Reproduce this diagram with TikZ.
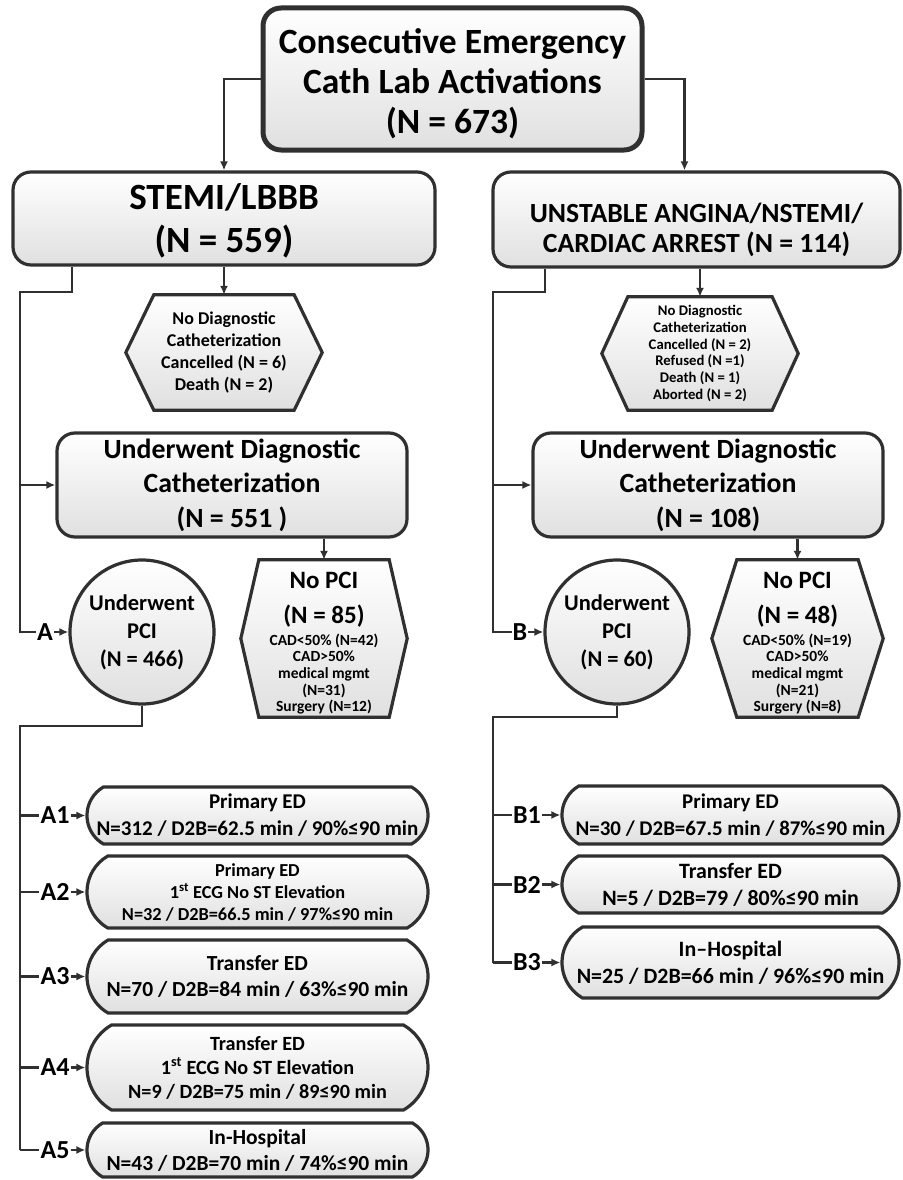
\documentclass[tikz,border=0pt]{standalone}
\usepackage{fontspec}
\setmainfont{Carlito}
\usetikzlibrary{arrows.meta, positioning, shapes.misc, backgrounds, calc}

\definecolor{edgegray}{HTML}{303030}
\definecolor{fillgray}{HTML}{E0E0E0}

\tikzset{
  boxline/.style={draw=edgegray, line width=3.2pt, top color=white, bottom color=fillgray},
  roundbox/.style={boxline, rounded corners=18pt, align=center, inner sep=0pt},
  pill/.style={boxline, rounded rectangle, rounded rectangle arc length=120,
    align=center, inner sep=0pt, minimum width=341pt},
  hexnode/.style={align=center, inner sep=0pt},
  pcicirc/.style={boxline, circle, minimum size=144pt, align=center, inner sep=0pt,
    font=\bfseries\fontsize{22.5}{28}\selectfont},
  branch/.style={font=\bfseries\fontsize{26}{26}\selectfont, inner sep=1pt},
  link/.style={draw=edgegray, line width=2.2pt},
}

% hexagon drawn behind a named node, #2 = inset of the points
\newcommand{\hexshape}[2]{%
  \begin{scope}[on background layer]
    \draw[boxline] (#1.west) -- ([xshift=#2pt]#1.north west) -- ([xshift=-#2pt]#1.north east)
      -- (#1.east) -- ([xshift=-#2pt]#1.south east) -- ([xshift=#2pt]#1.south west) -- cycle;
  \end{scope}}
\newcommand{\bigpci}{\fontsize{25}{32}\selectfont}

\begin{document}
\begin{tikzpicture}[x=1pt, y=-1pt, >={Latex[length=9pt,width=8pt]}]
\useasboundingbox (0,0) rectangle (902,1180);

% top level
\node[roundbox, line width=5pt, minimum width=379pt, minimum height=142pt,
  font=\bfseries\fontsize{35.5}{40}\selectfont] (cela) at (452.5,79)
  {\rule{0pt}{35pt}Consecutive Emergency\\Cath Lab Activations\\(N = 673)};
\node[roundbox, minimum width=422pt, minimum height=93pt,
  font=\bfseries\fontsize{37}{43}\selectfont] (stemi) at (224,218.5)
  {\rule{0pt}{30pt}STEMI/LBBB\\(N = 559)};
\node[roundbox, minimum width=407pt, minimum height=95pt,
  font=\bfseries\fontsize{27.7}{30}\selectfont] (ua) at (696.5,219.5)
  {\rule{0pt}{40pt}UNSTABLE ANGINA/NSTEMI/\\CARDIAC ARREST (N = 114)};

% no diagnostic cath
\node[hexnode, minimum width=196pt, minimum height=115pt,
  font=\bfseries\fontsize{18}{22}\selectfont] (nodiagA) at (224,352.5)
  {No Diagnostic\\Catheterization\\Cancelled (N = 6)\\Death (N = 2)};
\hexshape{nodiagA}{28}
\node[hexnode, minimum width=196pt, minimum height=113pt,
  font=\bfseries\fontsize{14.7}{16.7}\selectfont] (nodiagB) at (700,353.5)
  {No Diagnostic\\Catheterization\\Cancelled (N = 2)\\Refused (N =1)\\Death (N = 1)\\Aborted (N = 2)};
\hexshape{nodiagB}{26}

% diagnostic cath
\node[roundbox, minimum width=350pt, minimum height=104pt,
  font=\bfseries\fontsize{27.8}{34.5}\selectfont] (diagA) at (232,485)
  {Underwent Diagnostic\\Catheterization\\(N = 551 )};
\node[roundbox, minimum width=350pt, minimum height=104pt,
  font=\bfseries\fontsize{27.8}{34.5}\selectfont] (diagB) at (708,485)
  {Underwent Diagnostic\\Catheterization\\(N = 108)};

% PCI / no PCI
\node[pcicirc] (circA) at (142,632) {Underwent\\PCI\\(N = 466)};
\node[pcicirc] (circB) at (617,632) {Underwent\\PCI\\(N = 60)};
\node[hexnode, minimum width=166pt, minimum height=157pt,
  font=\bfseries\fontsize{15.5}{16.7}\selectfont] (nopciA) at (324,638.5)
  {\rule{0pt}{26pt}\bigpci No PCI\\[15pt]\bigpci (N = 85)\\[5pt]CAD<50\% (N=42)\\CAD>50\%\\medical mgmt\\(N=31)\\Surgery (N=12)};
\hexshape{nopciA}{18}
\node[hexnode, minimum width=171pt, minimum height=157pt,
  font=\bfseries\fontsize{15.5}{16.7}\selectfont] (nopciB) at (797.5,638.5)
  {\rule{0pt}{26pt}\bigpci No PCI\\[15pt]\bigpci (N = 48)\\[5pt]CAD<50\% (N=19)\\CAD>50\%\\medical mgmt\\(N=21)\\Surgery (N=8)};
\hexshape{nopciB}{25}

% branch labels
\node[branch] (labA) at (45,632) {A};
\node[branch] (labB) at (520,632) {B};
\foreach \i/\y in {1/815.5, 2/892, 3/976.5, 4/1067.5, 5/1150}
  \node[branch] (la\i) at (55,\y) {A\i};
\foreach \i/\y in {1/815, 2/884.5, 3/962.5}
  \node[branch] (lb\i) at (527,\y) {B\i};

% D2B groups
\node[pill, minimum height=57pt, font=\bfseries\fontsize{21}{27}\selectfont] (a1) at (257.5,815.5)
  {Primary ED\\N=312 / D2B=62.5 min / 90\%≤90 min};
\node[pill, minimum height=72pt, font=\bfseries\fontsize{18.3}{22}\selectfont] (a2) at (257.5,892)
  {Primary ED\\1\textsuperscript{st} ECG No ST Elevation\\N=32 / D2B=66.5 min / 97\%≤90 min};
\node[pill, minimum height=73pt, font=\bfseries\fontsize{21.5}{26}\selectfont] (a3) at (257.5,976.5)
  {Transfer ED\\N=70 / D2B=84 min / 63\%≤90 min};
\node[pill, minimum height=85pt, font=\bfseries\fontsize{20.2}{24}\selectfont] (a4) at (257.5,1067.5)
  {Transfer ED\\1\textsuperscript{st} ECG No ST Elevation\\N=9 / D2B=75 min / 89≤90 min};
\node[pill, minimum height=54pt, font=\bfseries\fontsize{21.5}{26}\selectfont] (a5) at (257.5,1150)
  {In-Hospital\\N=43 / D2B=70 min / 74\%≤90 min};
\node[pill, minimum width=337pt, minimum height=58pt, font=\bfseries\fontsize{20.9}{27}\selectfont] (b1) at (730.5,815)
  {Primary ED\\N=30 / D2B=67.5 min / 87\%≤90 min};
\node[pill, minimum width=337pt, minimum height=57pt, font=\bfseries\fontsize{21.9}{27}\selectfont] (b2) at (730.5,884.5)
  {Transfer ED\\N=5 / D2B=79 / 80\%≤90 min};
\node[pill, minimum width=337pt, minimum height=71pt, font=\bfseries\fontsize{21.9}{27}\selectfont] (b3) at (730.5,962.5)
  {In–Hospital\\N=25 / D2B=66 min / 96\%≤90 min};

% connectors
\coordinate (elbowA) at (20,292);
\coordinate (elbowB) at (493,292);
\coordinate (forkA) at (20,726);
\coordinate (forkB) at (493,717);

\draw[link,->] (cela.west) -| (stemi.north);
\draw[link,->] (cela.east) -| ([xshift=-12pt]ua.north);
\draw[link,->] (stemi) -- (nodiagA);
\draw[link,->] (ua.south -| nodiagB.north) -- (nodiagB.north);
\draw[link,->] (diagA.south -| nopciA.north) -- (nopciA.north);
\draw[link,->] (diagB.south -| nopciB.north) -- (nopciB.north);

\draw[link] ([xshift=-152pt]stemi.south) |- (elbowA) -- (elbowA |- labA.west) -- (labA.west);
\draw[link,->] (elbowA |- diagA.west) -- (diagA.west);
\draw[link,->] (labA) -- (circA);
\draw[link] ([xshift=-151.5pt]ua.south) |- (elbowB) -- (elbowB |- labB.west) -- (labB.west);
\draw[link,->] (elbowB |- diagB.west) -- (diagB.west);
\draw[link,->] (labB) -- (circB);

\draw[link] (circA.south) |- (forkA) -- (forkA |- la5.west);
\foreach \i in {1,...,5} {
  \draw[link] (forkA |- la\i.west) -- (la\i.west);
  \draw[link,->] (la\i) -- (a\i);
}
\draw[link] (circB.south) |- (forkB) -- (forkB |- lb3.west);
\foreach \i in {1,2,3} {
  \draw[link] (forkB |- lb\i.west) -- (lb\i.west);
  \draw[link,->] (lb\i) -- (b\i);
}
\end{tikzpicture}
\end{document}
